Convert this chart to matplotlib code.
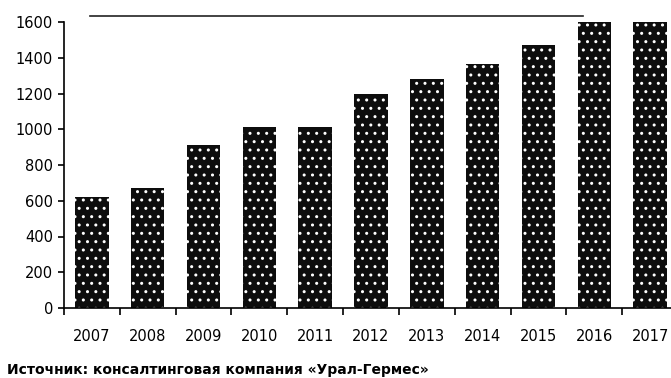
import matplotlib
matplotlib.use("Agg")
import matplotlib.pyplot as plt
from matplotlib.lines import Line2D
import numpy as np

years = ["2007", "2008", "2009", "2010", "2011", "2012",
         "2013", "2014", "2015", "2016", "2017"]
values = [620, 670, 910, 1015, 1015, 1200, 1280, 1365, 1470, 1600, 1600]
y_ticks = [0, 200, 400, 600, 800, 1000, 1200, 1400, 1600]
source = "Источник: консалтинговая компания «Урал-Гермес»"

plt.rcParams["font.family"] = ["DejaVu Sans"]
plt.rcParams["hatch.linewidth"] = 1.0

W, H = 671, 378
fig = plt.figure(figsize=(W / 100, H / 100), dpi=100)
ax = fig.add_axes([64 / W, 70 / H, 614 / W, 286 / H])

x = np.arange(len(years))
ax.bar(x, values, width=0.6, color="#0d0d0d", edgecolor="white",
       linewidth=0, hatch="..")

ax.set_xlim(-0.5, len(years) - 0.5)
ax.set_ylim(0, 1600)
ax.set_yticks(y_ticks)
ax.set_yticklabels([str(v) for v in y_ticks], fontsize=10.5)

# category labels sit between boundary ticks
ax.set_xticks(np.arange(len(years) + 1) - 0.5)
ax.set_xticklabels([])
ax.set_xticks(x, minor=True)
ax.set_xticklabels(years, minor=True, fontsize=10.5)
ax.tick_params(axis="x", which="minor", length=0, pad=15)
ax.tick_params(axis="x", which="major", direction="out", length=5,
               width=1.2, color="black")
ax.tick_params(axis="y", direction="out", length=4, width=1.2, pad=4)

for side in ("top", "right"):
    ax.spines[side].set_visible(False)
for side in ("left", "bottom"):
    ax.spines[side].set_linewidth(1.2)

# thin rule above the plot
fig.add_artist(Line2D([90 / W, 583 / W], [1 - 16 / H, 1 - 16 / H],
                      color="#222222", linewidth=1.2))

fig.text(7 / W, 1 - 370 / H, source, fontsize=10, fontweight="bold",
         va="center", ha="left")

fig.savefig("out.png", dpi=100)
